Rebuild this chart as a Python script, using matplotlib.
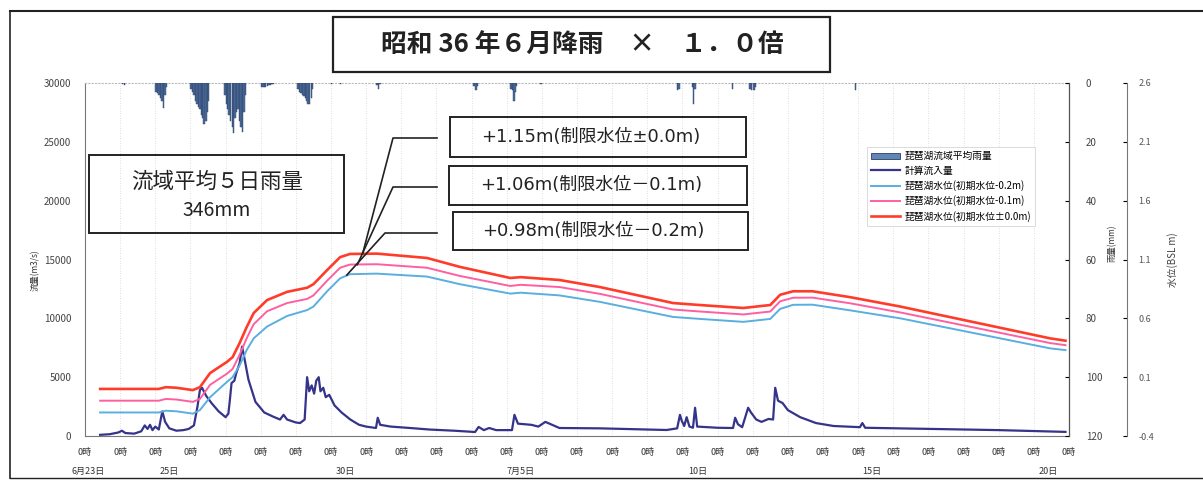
import matplotlib
matplotlib.use("Agg")
import matplotlib.pyplot as plt
from matplotlib.lines import Line2D
from matplotlib.patches import Rectangle, Patch

plt.rcParams['font.family'] = ['Noto Sans CJK JP', 'DejaVu Sans']
LATIN_FIRST = ['DejaVu Sans', 'Noto Sans CJK JP']

# --- data (x in days from 6/23 0時) ---
flow_t = [0.43, 0.7, 0.95, 1.05, 1.15, 1.4, 1.6, 1.7, 1.78, 1.85, 1.92, 2.0, 2.1, 2.2, 2.28,
          2.4, 2.6, 2.8, 2.95, 3.1, 3.2, 3.27, 3.33, 3.45, 3.6, 3.8, 4.0, 4.08, 4.12, 4.17,
          4.25, 4.3, 4.4, 4.47, 4.53, 4.65, 4.85, 5.1, 5.35, 5.55, 5.65, 5.75, 6.0, 6.12,
          6.25, 6.32, 6.38, 6.45, 6.52, 6.58, 6.65, 6.7, 6.78, 6.85, 6.95, 7.1, 7.3, 7.55,
          7.8, 8.0, 8.28, 8.33, 8.4, 8.7, 9.25, 9.8, 10.5, 11.1, 11.2, 11.35, 11.5, 11.7,
          12.15, 12.22, 12.32, 12.7, 12.9, 13.1, 13.5, 14.65, 16.55, 16.85, 16.93, 16.98,
          17.05, 17.12, 17.2, 17.3, 17.36, 17.42, 18.0, 18.44, 18.5, 18.58, 18.7, 18.87,
          18.95, 19.1, 19.25, 19.45, 19.58, 19.64, 19.72, 19.85, 20.0, 20.35, 20.8, 21.3,
          22.05, 22.12, 22.2, 24.1, 26.0, 27.9]
flow_q = [100, 150, 300, 450, 250, 200, 400, 900, 600, 950, 500, 800, 550, 2100, 1200,
          650, 450, 500, 600, 900, 2500, 3900, 4100, 3400, 2800, 2100, 1600, 1900, 3000, 4500,
          4700, 5300, 6200, 7600, 6700, 4800, 2900, 2000, 1650, 1400, 1800, 1400, 1150, 1100,
          1400, 5000, 3800, 4300, 3600, 4700, 5000, 3800, 4100, 3300, 3500, 2600, 2000, 1400,
          950, 800, 680, 1550, 950, 800, 680, 550, 450, 340, 770, 500, 680, 500,
          500, 1800, 1050, 950, 800, 1200, 680, 650, 510, 650, 1800, 1300,
          850, 1600, 800, 700, 2400, 800, 700, 680, 1550, 1000, 750, 2400,
          2000, 1400, 1200, 1450, 1400, 4100, 3000, 2800, 2200, 1600, 1100, 850,
          750, 1100, 700, 600, 500, 350]

lake_t = [0.43, 2.1, 2.3, 2.6, 3.07, 3.27, 3.56, 4.04, 4.2, 4.4, 4.6, 4.8, 5.18, 5.75,
          6.32, 6.5, 6.89, 7.26, 7.54, 8.3, 9.73, 10.67, 12.1, 12.4, 13.5, 14.65, 16.73,
          17.5, 18.73, 19.5, 19.78, 20.15, 20.7, 21.77, 23.2, 27.46, 27.9]
lake_00 = [0.00, 0.00, 0.015, 0.01, -0.01, 0.015, 0.135, 0.23, 0.27, 0.39, 0.525, 0.645,
           0.755, 0.825, 0.86, 0.89, 1.01, 1.12, 1.147, 1.15, 1.113, 1.037, 0.943, 0.95,
           0.926, 0.866, 0.73, 0.713, 0.688, 0.713, 0.80, 0.83, 0.83, 0.78, 0.70, 0.43, 0.41]
lake_01 = [-0.10, -0.10, -0.085, -0.09, -0.11, -0.085, 0.035, 0.13, 0.17, 0.29, 0.43, 0.55,
           0.66, 0.73, 0.765, 0.795, 0.92, 1.03, 1.057, 1.06, 1.03, 0.96, 0.875, 0.885,
           0.866, 0.808, 0.675, 0.658, 0.633, 0.658, 0.745, 0.775, 0.776, 0.728, 0.65, 0.39, 0.372]
lake_02 = [-0.20, -0.20, -0.185, -0.19, -0.21, -0.18, -0.07, 0.06, 0.10, 0.20, 0.33, 0.43,
           0.53, 0.62, 0.67, 0.70, 0.83, 0.94, 0.975, 0.98, 0.955, 0.89, 0.81, 0.818,
           0.795, 0.74, 0.612, 0.595, 0.57, 0.595, 0.68, 0.715, 0.716, 0.668, 0.60, 0.345, 0.33]

rain_t = [1.05, 1.1,
          2.00, 2.04, 2.08, 2.12, 2.17, 2.21, 2.25, 2.29,
          3.00, 3.04, 3.08, 3.12, 3.17, 3.21, 3.25, 3.29, 3.33, 3.37, 3.42, 3.46, 3.50,
          3.96, 4.00, 4.04, 4.08, 4.12, 4.17, 4.21, 4.25, 4.29, 4.33, 4.37, 4.42, 4.46, 4.50, 4.54,
          5.00, 5.04, 5.08, 5.12, 5.17, 5.21, 5.25, 5.29, 5.33,
          6.04, 6.08, 6.12, 6.17, 6.21, 6.25, 6.29, 6.33, 6.37, 6.42, 6.46,
          7.00, 7.25, 8.29, 8.33, 8.37, 11.05, 11.1, 11.15,
          12.1, 12.14, 12.18, 12.22, 12.26, 12.95,
          16.84, 16.88, 17.26, 17.3, 17.34, 18.41, 18.9, 18.94, 19.02, 19.06, 21.9]
rain_mm = [0.5, 0.6,
           3, 3.5, 4, 5, 6, 8.5, 4, 1.5,
           2, 3, 4, 6, 7, 8, 9, 11, 12, 14, 13, 10, 6,
           4, 7, 9, 11, 13, 15, 17, 12, 10, 9, 13, 15, 16.5, 10, 4,
           1.5, 1.5, 1.3, 1.2, 1.0, 0.8, 0.7, 0.5, 0.3,
           2, 3, 3.5, 4, 4.5, 5, 6, 7, 7, 5, 2,
           0.4, 0.4, 0.6, 2.0, 0.5, 1, 2.5, 1,
           2, 2.5, 6, 3, 1, 0.5,
           2.5, 2, 1.5, 7, 2, 2, 2, 2.5, 2.5, 1.5, 2.5]

date_pos = [0.1, 2.4, 7.4, 12.4, 17.45, 22.4, 27.4]
date_lab = ['6月23日', '25日', '30日', '7月5日', '10日', '15日', '20日']

W, H = 1203, 487
fig = plt.figure(figsize=(W / 100, H / 100), dpi=100)

ax = fig.add_axes([85 / W, 51 / H, 984 / W, 353 / H])
ax2 = ax.twinx()
ax3 = ax.twinx()

# discharge
ax.plot(flow_t, flow_q, color='#35338a', lw=1.6, zorder=3)
ax.set_xlim(0, 28)
ax.set_ylim(0, 30000)
ax.set_yticks(range(0, 30001, 5000))
ax.set_xticks(range(29))
ax.set_xticklabels(['0時'] * 29)
ax.tick_params(axis='x', length=0, pad=9, labelsize=6.5, labelcolor='#333')
ax.tick_params(axis='y', length=0, pad=10, labelsize=7, labelcolor='#444')
ax.grid(axis='x', color='#d4d4d4', lw=0.6, ls=(0, (1, 2)))
for s in ['left', 'bottom']:
    ax.spines[s].set_color('#777')
ax.spines['top'].set_color('#bbbbbb')
ax.spines['top'].set_linestyle((0, (1, 2)))
for d, s in zip(date_pos, date_lab):
    ax.text(d, -0.10, s, transform=ax.get_xaxis_transform(), ha='center', va='center',
            fontsize=6.5, color='#333')

# rainfall, hanging from the top
ax2.bar(rain_t, rain_mm, width=1 / 24, align='edge', color='#4d6f9e', edgecolor='#2b3d63', lw=0.3)
ax2.set_ylim(120, 0)
ax2.set_yticks(range(0, 121, 20))
ax2.tick_params(axis='y', length=3, direction='in', pad=12, labelsize=7, labelcolor='#444')
ax2.spines['right'].set_color('#555')
for s in ['top', 'left', 'bottom']:
    ax2.spines[s].set_visible(False)

# lake levels
ax3.plot(lake_t, lake_02, color='#5aaee0', lw=1.4, zorder=3)
ax3.plot(lake_t, lake_01, color='#ff5fa0', lw=1.4, zorder=3)
ax3.plot(lake_t, lake_00, color='#ff3b2a', lw=1.9, zorder=3)
ax3.set_ylim(-0.4, 2.6)
ax3.set_yticks([2.6, 2.1, 1.6, 1.1, 0.6, 0.1, -0.4])
ax3.set_yticklabels(['2.6', '2.1', '1.6', '1.1', '0.6', '0.1', '-0.4'])
ax3.spines['right'].set_position(('axes', 1 + 58 / 984))
ax3.spines['right'].set_color('#777')
for s in ['top', 'left', 'bottom']:
    ax3.spines[s].set_visible(False)
ax3.tick_params(axis='y', length=3, direction='in', pad=8, labelsize=6.5, labelcolor='#555')

# axis titles
fig.text(35 / W, 1 - 270 / H, '流量(m3/s)', rotation=90, ha='center', va='center', fontsize=6, color='#333')
fig.text(1112 / W, 1 - 243 / H, '雨量(mm)', rotation=90, ha='center', va='center', fontsize=6, color='#333')
fig.text(1173 / W, 1 - 260 / H, '水位(BSL m)', rotation=90, ha='center', va='center', fontsize=7, color='#444')


def box(x0, y0, x1, y1, lw=1.4):
    fig.add_artist(Rectangle((x0 / W, 1 - y1 / H), (x1 - x0) / W, (y1 - y0) / H,
                             transform=fig.transFigure, fill=False, edgecolor='#222', lw=lw))


def fline(xs, ys, lw=1.2):
    fig.add_artist(Line2D([x / W for x in xs], [1 - y / H for y in ys],
                          transform=fig.transFigure, color='#222', lw=lw))


# frame of the sheet
fline([10, W], [11, 11], lw=1.5)
fline([10, 10], [11, 478], lw=1.2)
fline([10, W], [478, 478], lw=1.0)

# title
box(333, 17, 830, 72, lw=1.6)
fig.text(582 / W, 1 - 45 / H, '昭和 36 年６月降雨　×　１．０倍', ha='center', va='center',
         fontsize=18.5, fontweight='bold', color='#222')

# 5-day rainfall note
box(89, 155, 344, 233)
fig.text(217 / W, 1 - 182 / H, '流域平均５日雨量', ha='center', va='center', fontsize=15.5, color='#222')
fig.text(217 / W, 1 - 210 / H, '346mm', ha='center', va='center', fontsize=14, color='#222')

# peak level notes with leader lines
notes = [('+1.15m(制限水位±0.0m)', (450, 117, 746, 157), 138, 393, (7.9, 1.15)),
         ('+1.06m(制限水位－0.1m)', (449, 166, 747, 205), 187, 393, (7.75, 1.057)),
         ('+0.98m(制限水位－0.2m)', (453, 212, 748, 250), 233, 385, (7.45, 0.968))]
for txt, (x0, y0, x1, y1), ly, ex, tip in notes:
    box(x0, y0, x1, y1)
    fig.text((x0 + x1) / 2 / W - 0.006, 1 - (y0 + y1) / 2 / H, txt, ha='center', va='center',
             fontsize=13, family=LATIN_FIRST, color='#222')
    tx, ty = ax3.transData.transform(tip)
    fline([437, ex, tx], [ly, ly, H - ty])

# legend
handles = [Patch(facecolor='#5f86b5', edgecolor='#2b3d63', lw=0.6),
           Line2D([], [], color='#35338a', lw=1.6),
           Line2D([], [], color='#5aaee0', lw=1.4),
           Line2D([], [], color='#ff5fa0', lw=1.4),
           Line2D([], [], color='#ff3b2a', lw=1.9)]
labels = ['琵琶湖流域平均雨量', '計算流入量', '琵琶湖水位(初期水位-0.2m)',
          '琵琶湖水位(初期水位-0.1m)', '琵琶湖水位(初期水位±0.0m)']
leg = fig.legend(handles, labels, loc='upper left', bbox_to_anchor=(862 / W, 1 - 142 / H),
                 fontsize=7, frameon=True, fancybox=False, edgecolor='#cccccc',
                 handlelength=3.0, handleheight=0.6, labelspacing=0.45, borderpad=0.45,
                 handletextpad=0.4)
leg.get_frame().set_linewidth(0.6)

fig.savefig('out.png', dpi=100)
